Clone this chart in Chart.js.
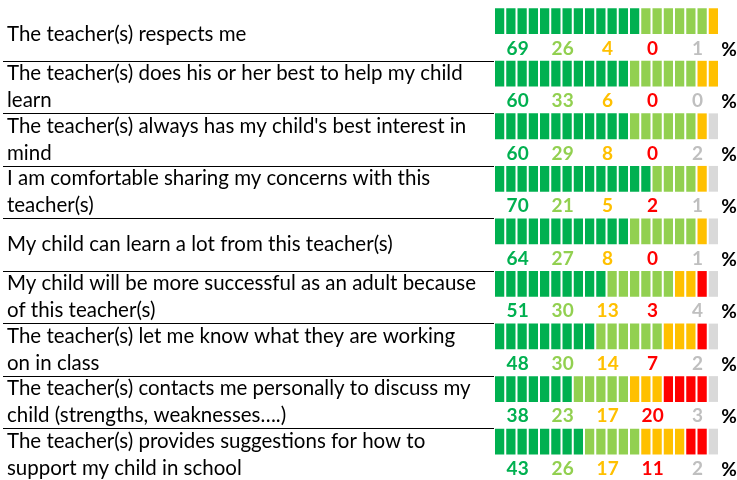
<!DOCTYPE html>
<html><head><meta charset="utf-8">
<script src="https://cdn.jsdelivr.net/npm/chart.js@4"></script>
<style>
html,body{margin:0;padding:0;background:#fff;overflow:hidden;width:737px;height:480px}
#wrap{position:relative;width:737px;height:482px}
canvas{display:block}
</style>
</head><body><div id="wrap"><canvas id="c" width="737" height="482" style="width:737px;height:482px"></canvas></div>
<script>
// ---- data ----
const categories = [
  "The teacher(s) respects me",
  ["The teacher(s) does his or her best to help my child", "learn"],
  ["The teacher(s) always has my child's best interest in", "mind"],
  ["I am comfortable sharing my concerns with this", "teacher(s)"],
  "My child can learn a lot from this teacher(s)",
  ["My child will be more successful as an adult because", "of this teacher(s)"],
  ["The teacher(s) let me know what they are working", "on in class"],
  ["The teacher(s) contacts me personally to discuss my", "child (strengths, weaknesses\u2026.)"],
  ["The teacher(s) provides suggestions for how to", "support my child in school"]
];
// percentages shown under each bar
const pctStronglyAgree    = [69, 60, 60, 70, 64, 51, 48, 38, 43];
const pctAgree            = [26, 33, 29, 21, 27, 30, 30, 23, 26];
const pctDisagree         = [4, 6, 8, 5, 8, 13, 14, 17, 17];
const pctStronglyDisagree = [0, 0, 0, 2, 0, 3, 7, 20, 11];
const pctNoAnswer         = [1, 0, 2, 1, 1, 4, 2, 3, 2];
// number of 5% cells drawn in each bar (20 cells per row)
const cellsStronglyAgree    = [13, 12, 12, 14, 12, 10, 9, 7, 8];
const cellsAgree            = [6, 6, 6, 4, 6, 6, 6, 5, 5];
const cellsDisagree         = [1, 2, 1, 1, 1, 2, 3, 3, 4];
const cellsStronglyDisagree = [0, 0, 0, 0, 0, 1, 1, 4, 2];
const cellsNoAnswer         = [0, 0, 1, 1, 1, 1, 1, 1, 1];
const totalCells = 20;

// ---- styles ----
const cellColors = ['#00B050', '#92D050', '#FFC000', '#FF0000', '#D9D9D9'];
const numColors  = ['#00B050', '#92D050', '#FFC000', '#FF0000', '#BFBFBF'];
const numColumns = [2.1, 6.1, 10.1, 14.1, 18.1];
const pctColumn = 20.9;
const labelFamily = 'Lato, "Open Sans", sans-serif';

const pctSeries = [pctStronglyAgree, pctAgree, pctDisagree, pctStronglyDisagree, pctNoAnswer];
const cellSeries = [cellsStronglyAgree, cellsAgree, cellsDisagree, cellsStronglyDisagree, cellsNoAnswer];

// fit label font to the reference line width
const mctx = document.createElement('canvas').getContext('2d');
mctx.font = '20px ' + labelFamily;
const fs = 20 * 456 / mctx.measureText("The teacher(s) does his or her best to help my child").width;

const datasets = cellSeries.map((arr, k) => ({
  data: arr, backgroundColor: cellColors[k], stack: 'cells',
  barPercentage: 0.98, categoryPercentage: 1, borderWidth: 0
}));
datasets.push({ data: categories.map(() => 0), backgroundColor: 'rgba(0,0,0,0)', stack: 'space',
  barPercentage: 0.98, categoryPercentage: 1, borderWidth: 0 });

const cellGaps = {
  id: 'cellGaps',
  afterDatasetsDraw(chart) {
    const ctx = chart.ctx, xs = chart.scales.x;
    const meta = chart.getDatasetMeta(0);
    ctx.save();
    ctx.fillStyle = '#fff';
    meta.data.forEach(el => {
      const p = el.getProps(['y', 'height'], true);
      const top = p.y - p.height / 2;
      for (let k = 0; k <= totalCells; k++) {
        const x = xs.getPixelForValue(k);
        ctx.fillRect(x - 1, top - 1, 2, p.height + 2);
      }
    });
    ctx.restore();
  }
};

const annotations = {
  id: 'annotations',
  afterDraw(chart) {
    const ctx = chart.ctx, xs = chart.scales.x, ys = chart.scales.y;
    const band = ys.getPixelForValue(1) - ys.getPixelForValue(0);
    ctx.save();
    // row separators
    ctx.strokeStyle = '#000';
    ctx.lineWidth = 1;
    for (let i = 0; i < categories.length - 1; i++) {
      const y = Math.round(ys.getPixelForValue(i) + band / 2) + 0.5;
      ctx.beginPath();
      ctx.moveTo(3, y);
      ctx.lineTo(chart.chartArea.left, y);
      ctx.stroke();
    }
    // numbers
    ctx.font = 'bold 19px ' + labelFamily;
    ctx.textAlign = 'center';
    ctx.textBaseline = 'middle';
    categories.forEach((c, i) => {
      const y = ys.getPixelForValue(i) + band / 4 + 1;
      pctSeries.forEach((arr, k) => {
        ctx.fillStyle = numColors[k];
        ctx.fillText(String(arr[i]), xs.getPixelForValue(numColumns[k]), y);
      });
      ctx.fillStyle = '#000';
      ctx.fillText('%', xs.getPixelForValue(pctColumn), y + 1);
    });
    ctx.restore();
  }
};

new Chart(document.getElementById('c'), {
  type: 'bar',
  data: { labels: categories, datasets },
  options: {
    indexAxis: 'y',
    responsive: false,
    animation: false,
    layout: { padding: { left: 7, right: 18, top: 8, bottom: 1 } },
    plugins: { legend: { display: false }, tooltip: { enabled: false } },
    scales: {
      x: { type: 'linear', min: 0, max: totalCells, stacked: true, display: false },
      y: {
        type: 'category', stacked: true, offset: true,
        grid: { display: false }, border: { display: false },
        ticks: { crossAlign: 'far', color: '#000', padding: 0, autoSkip: false,
          font: { family: labelFamily, size: fs, lineHeight: 27 / fs } },
        afterFit(s) { s.width = 487; s.paddingTop = 0; s.paddingBottom = 0; }
      }
    }
  },
  plugins: [cellGaps, annotations]
});
</script>
</body></html>
